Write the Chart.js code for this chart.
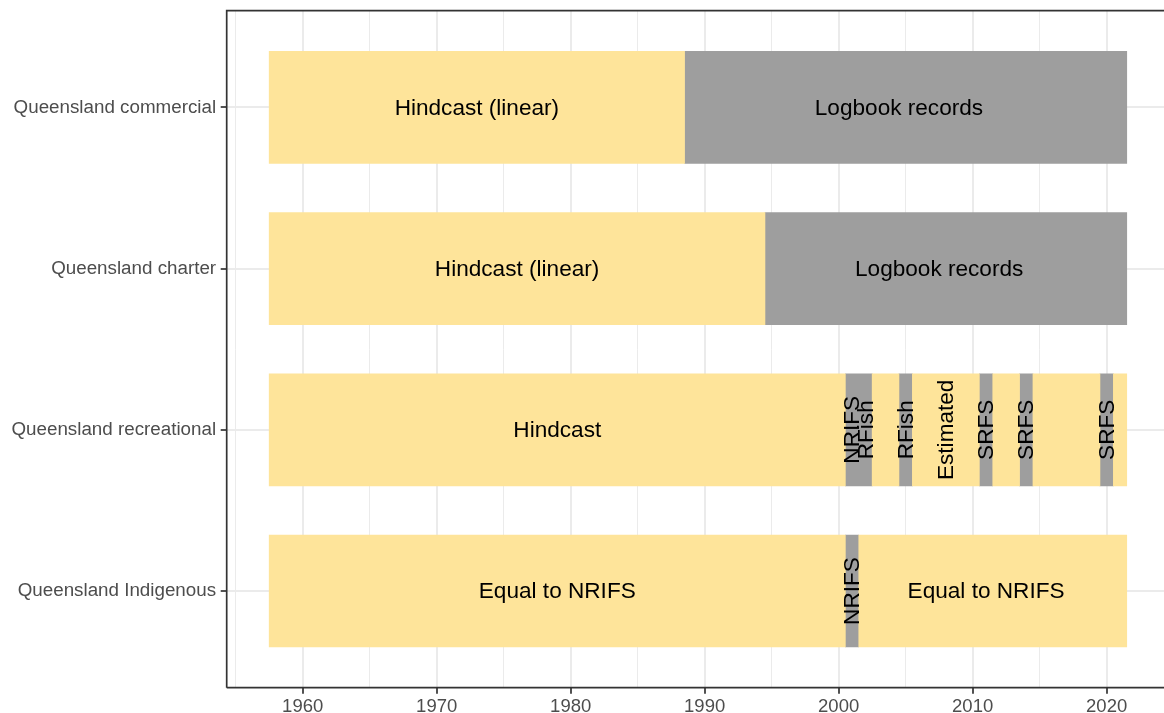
<!DOCTYPE html>
<html>
<head>
<meta charset="utf-8">
<script src="https://cdn.jsdelivr.net/npm/chart.js@4.4.1/dist/chart.umd.min.js"></script>
<style>
  html, body { margin: 0; padding: 0; background: #ffffff; overflow: hidden; }
  canvas { display: block; }
</style>
</head>
<body>
<canvas id="c" width="1164" height="713"></canvas>
<script>
// ---- data ----
const categories = ['Queensland commercial', 'Queensland charter', 'Queensland recreational', 'Queensland Indigenous'];

// [row, from year, to year]
const hindcastSpans = [
  [0, 1957.5, 1988.5],
  [1, 1957.5, 1994.5],
  [2, 1957.5, 2000.5], [2, 2002.5, 2004.5], [2, 2005.5, 2010.5], [2, 2011.5, 2013.5], [2, 2014.5, 2019.5], [2, 2020.5, 2021.5],
  [3, 1957.5, 2000.5], [3, 2001.5, 2021.5]
];
const recordSpans = [
  [0, 1988.5, 2021.5],
  [1, 1994.5, 2021.5],
  [2, 2000.5, 2002.5], [2, 2004.5, 2005.5], [2, 2010.5, 2011.5], [2, 2013.5, 2014.5], [2, 2019.5, 2020.5],
  [3, 2000.5, 2001.5]
];

const labelTexts    = ['Hindcast (linear)', 'Logbook records', 'Hindcast (linear)', 'Logbook records', 'Hindcast', 'NRIFS', 'RFish', 'RFish', 'Estimated', 'SRFS', 'SRFS', 'SRFS', 'Equal to NRIFS', 'NRIFS', 'Equal to NRIFS'];
const labelYears    = [1973, 2004.5, 1976, 2007.5, 1979, 2001, 2002, 2005, 2008, 2011, 2014, 2020, 1979, 2001, 2011];
const labelRows     = [0, 0, 1, 1, 2, 2, 2, 2, 2, 2, 2, 2, 3, 3, 3];
const labelVertical = [false, false, false, false, false, true, true, true, true, true, true, true, false, true, false];

const xTicks = [1955, 1960, 1965, 1970, 1975, 1980, 1985, 1990, 1995, 2000, 2005, 2010, 2015, 2020];

// ---- styles ----
const FONT = '"Liberation Sans", Arial, Helvetica, sans-serif';
const YELLOW = '#FEE49A';
const GREY = '#9E9E9E';

const toPoints = spans => spans.map(s => ({ x: [s[1], s[2]], y: s[0] + 1 }));

const textPlugin = {
  id: 'tileText',
  afterDatasetsDraw(chart) {
    const { ctx, scales: { x, y } } = chart;
    ctx.save();
    ctx.fillStyle = '#000000';
    ctx.font = '22.6px ' + FONT;
    ctx.textAlign = 'center';
    ctx.textBaseline = 'middle';
    labelTexts.forEach((t, i) => {
      const px = x.getPixelForValue(labelYears[i]);
      const py = y.getPixelForValue(labelRows[i] + 1);
      ctx.save();
      ctx.translate(px, py);
      if (labelVertical[i]) ctx.rotate(-Math.PI / 2);
      ctx.fillText(t, 0, 1);
      ctx.restore();
    });
    ctx.restore();
  }
};

const framePlugin = {
  id: 'frame',
  afterDraw(chart) {
    const { ctx, chartArea: a } = chart;
    ctx.save();
    ctx.strokeStyle = '#333333';
    ctx.lineWidth = 1.7;
    ctx.beginPath();
    ctx.moveTo(a.left, a.bottom);
    ctx.lineTo(a.left, a.top);
    ctx.lineTo(a.right + 2, a.top);
    ctx.moveTo(a.left, a.bottom);
    ctx.lineTo(a.right + 2, a.bottom);
    ctx.stroke();
    ctx.restore();
  }
};

new Chart(document.getElementById('c'), {
  type: 'bar',
  data: {
    datasets: [
      { label: 'Hindcast', data: toPoints(hindcastSpans), backgroundColor: YELLOW, borderWidth: 0, grouped: false, barThickness: 112 },
      { label: 'Records', data: toPoints(recordSpans), backgroundColor: GREY, borderWidth: 0, grouped: false, barThickness: 112 }
    ]
  },
  options: {
    indexAxis: 'y',
    responsive: false,
    devicePixelRatio: 1,
    animation: false,
    layout: { padding: { top: 10.7, left: 0, right: 0, bottom: 0 } },
    plugins: { legend: { display: false }, tooltip: { enabled: false } },
    scales: {
      x: {
        type: 'linear',
        min: 1954.33,
        max: 2024.28,
        offset: false,
        afterBuildTicks: s => { s.ticks = xTicks.map(v => ({ value: v })); },
        afterFit: s => { s.height = 25.3; s.paddingLeft = 0; s.paddingRight = 0; },
        ticks: {
          autoSkip: false,
          maxRotation: 0,
          padding: 2.5,
          color: '#4D4D4D',
          font: { family: FONT, size: 18.5 },
          callback: v => (v % 10 === 0 ? String(v) : '')
        },
        grid: {
          offset: false,
          color: '#EBEBEB',
          lineWidth: c => (c.tick && c.tick.value % 10 === 0 ? 2 : 1),
          tickColor: c => (c.tick && c.tick.value % 10 === 0 ? '#333333' : 'rgba(0,0,0,0)'),
          tickLength: 6,
          tickWidth: 1.7
        },
        border: { display: false }
      },
      y: {
        type: 'linear',
        reverse: true,
        min: 0.4,
        max: 4.6,
        offset: false,
        afterBuildTicks: s => { s.ticks = categories.map((c, i) => ({ value: i + 1 })); },
        afterFit: s => { s.width = 226.7; s.paddingTop = 0; s.paddingBottom = 0; },
        ticks: {
          autoSkip: false,
          padding: 4.6,
          color: '#4D4D4D',
          font: { family: FONT, size: 18.8 },
          callback: v => categories[v - 1]
        },
        grid: {
          offset: false,
          color: '#EBEBEB',
          lineWidth: 2,
          tickColor: '#333333',
          tickLength: 6,
          tickWidth: 1.7
        },
        border: { display: false }
      }
    }
  },
  plugins: [textPlugin, framePlugin]
});
</script>
</body>
</html>
